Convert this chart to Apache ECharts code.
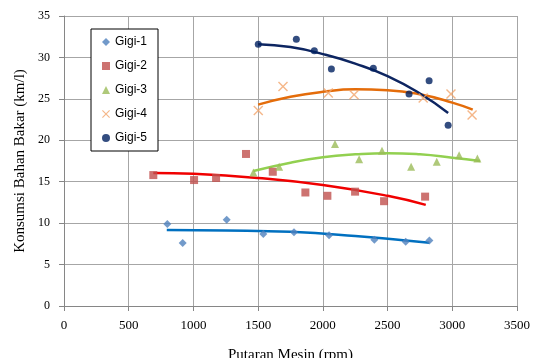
<!DOCTYPE html>
<html>
<head>
<meta charset="utf-8">
<script src="https://cdn.jsdelivr.net/npm/echarts@6/dist/echarts.min.js"></script>
<style>html,body{margin:0;padding:0;background:#fff;}#c{width:534px;height:358px;}</style>
</head>
<body>
<div id="c"></div>
<script>
// Scatter data [rpm, km/l]
const gigi1 = [[798,9.9],[917,7.6],[1257,10.4],[1540,8.7],[1777,8.9],[2048,8.55],[2398,8.0],[2640,7.75],[2823,7.9]];
const gigi2 = [[690,15.8],[1005,15.2],[1175,15.45],[1406,18.35],[1613,16.2],[1865,13.7],[2035,13.3],[2249,13.8],[2473,12.65],[2790,13.2]];
const gigi3 = [[1463,16.1],[1662,16.8],[2094,19.55],[2280,17.7],[2457,18.75],[2682,16.8],[2880,17.4],[3053,18.2],[3194,17.8]];
const gigi4 = [[1501,23.6],[1692,26.5],[2042,25.7],[2241,25.5],[2775,25.1],[2990,25.6],[3153,23.05]];
const gigi5 = [[1501,31.6],[1795,32.2],[1934,30.8],[2066,28.6],[2390,28.7],[2666,25.6],[2821,27.2],[2968,21.8]];

// Trend lines
const trend1 = [[794,9.17],[1250,9.12],[1750,8.95],[2250,8.45],[2640,7.9],[2823,7.64]];
const trend2 = [[690,16.05],[1000,15.95],[1500,15.45],[2000,14.6],[2500,13.3],[2795,12.2]];
const trend3 = [[1463,16.3],[1750,17.3],[2000,17.95],[2250,18.3],[2500,18.45],[2750,18.3],[3000,17.9],[3215,17.5]];
const trend4 = [[1500,24.3],[1750,25.25],[2000,25.85],[2250,26.15],[2500,26.05],[2750,25.55],[3000,24.55],[3158,23.7]];
const trend5 = [[1500,31.6],[1750,31.25],[2000,30.4],[2250,29.25],[2500,27.75],[2750,25.65],[2968,23.3]];

const names = ['Gigi-1','Gigi-2','Gigi-3','Gigi-4','Gigi-5'];
const xTitle = 'Putaran Mesin (rpm)';
const yTitle = 'Konsumsi Bahan Bakar (km/l)';

const xPath = 'path://M0,1L1,0L5,4L9,0L10,1L6,5L10,9L9,10L5,6L1,10L0,9L4,5Z';

const chart = echarts.init(document.getElementById('c'), null, {renderer:'canvas'});
const serif = 'Liberation Serif, Times New Roman, serif';

function scatter(name, data, symbol, size, color){
  return {name, type:'scatter', data, symbol, symbolSize:size, itemStyle:{color}, z:3};
}
function trend(data, color){
  return {name:'t', type:'line', data, smooth:true, showSymbol:false, symbol:'none', lineStyle:{color, width:2.5}, z:2, silent:true};
}

chart.setOption({
  animation:false,
  backgroundColor:'#fff',
  grid:{left:64, right:17, top:16, bottom:52, containLabel:false, outerBoundsMode:'none'},
  xAxis:{
    type:'value', min:0, max:3500, interval:500,
    name:xTitle, nameLocation:'middle', nameGap:42,
    nameTextStyle:{fontFamily:serif, fontSize:15, color:'#000'},
    axisLine:{show:true, lineStyle:{color:'#868686'}},
    axisTick:{show:true, length:5, lineStyle:{color:'#868686'}},
    axisLabel:{fontFamily:serif, fontSize:13, color:'#000', margin:13, formatter:v => String(v)},
    splitLine:{show:true, lineStyle:{color:'#A6A6A6'}}
  },
  yAxis:{
    type:'value', min:0, max:35, interval:5,
    name:yTitle, nameLocation:'middle', nameGap:35,
    nameTextStyle:{fontFamily:serif, fontSize:15, color:'#000'},
    axisLine:{show:true, lineStyle:{color:'#868686'}},
    axisTick:{show:true, length:5, lineStyle:{color:'#868686'}},
    axisLabel:{fontFamily:serif, fontSize:12, color:'#000', margin:14},
    splitLine:{show:true, lineStyle:{color:'#A6A6A6'}}
  },
  legend:{
    data:names, orient:'vertical', left:91, top:29,
    backgroundColor:'#fff', borderColor:'#000', borderWidth:1,
    padding:[6,11,6,11], itemGap:10, itemWidth:8, itemHeight:8,
    textStyle:{fontFamily:'Liberation Sans, Arial, sans-serif', fontSize:12, color:'#000', lineHeight:14}
  },
  series:[
    trend(trend1,'#0070C0'),
    trend(trend2,'#F00000'),
    trend(trend3,'#92D050'),
    trend(trend4,'#E46C0A'),
    trend(trend5,'#0D2561'),
    scatter(names[0], gigi1, 'diamond', 8, '#4F81BD'),
    scatter(names[1], gigi2, 'rect', 8, '#C0504D'),
    scatter(names[2], gigi3, 'triangle', 8, '#9BBB59'),
    scatter(names[3], gigi4, xPath, 10, '#F2A56B'),
    scatter(names[4], gigi5, 'circle', 7, '#002060')
  ]
});
</script>
</body>
</html>
